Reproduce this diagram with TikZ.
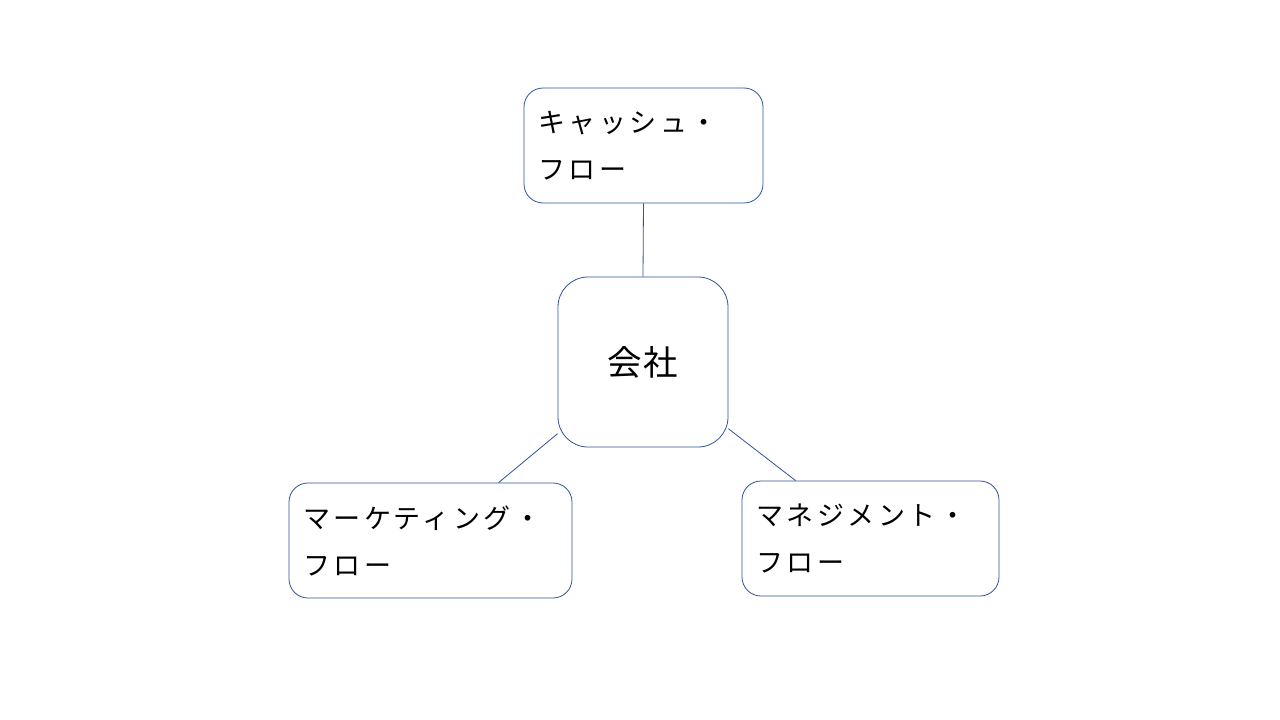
\documentclass[tikz,border=0pt]{standalone}
\usepackage{fontspec}
\newfontfamily\jp[LetterSpace=13]{Noto Sans CJK JP}
\newfontfamily\jpc[LetterSpace=3]{Noto Sans CJK JP}
\usetikzlibrary{calc}
\definecolor{edge}{RGB}{47,84,150}
\tikzset{
  box/.style={draw=edge, line width=0.8pt, rounded corners=19pt, fill=white,
    inner xsep=14pt, inner ysep=0pt, align=left, text=black,
    font=\jp\fontsize{27}{47}\selectfont},
  hub/.style={draw=edge, line width=0.8pt, rounded corners=30pt, fill=white,
    minimum width=170pt, minimum height=170pt, text=black,
    font=\jpc\fontsize{34.5}{40}\selectfont},
  link/.style={draw=edge, line width=0.8pt}
}
\begin{document}
\begin{tikzpicture}[x=1pt,y=-1pt]
\useasboundingbox[fill=white] (0,0) rectangle (1280,720);
\node[hub] (company) at (643,362) {会社};
\node[box, text width=211pt, minimum height=115pt] (cash) at (643.5,145.5) {キャッシュ・\\フロー};
\node[box, text width=255pt, minimum height=115pt] (mkt) at (430.5,540.5) {マーケティング・\\フロー};
\node[box, text width=229pt, minimum height=115pt] (mgmt) at (870.5,538.5) {マネジメント・\\フロー};
\draw[link] (cash.south) -- (company.north);
\draw[link] (company.220.3) -- ($(mkt.north west)+(210,0)$);
\draw[link] (company.322.2) -- ($(mgmt.north west)+(54,0)$);
\end{tikzpicture}
\end{document}
